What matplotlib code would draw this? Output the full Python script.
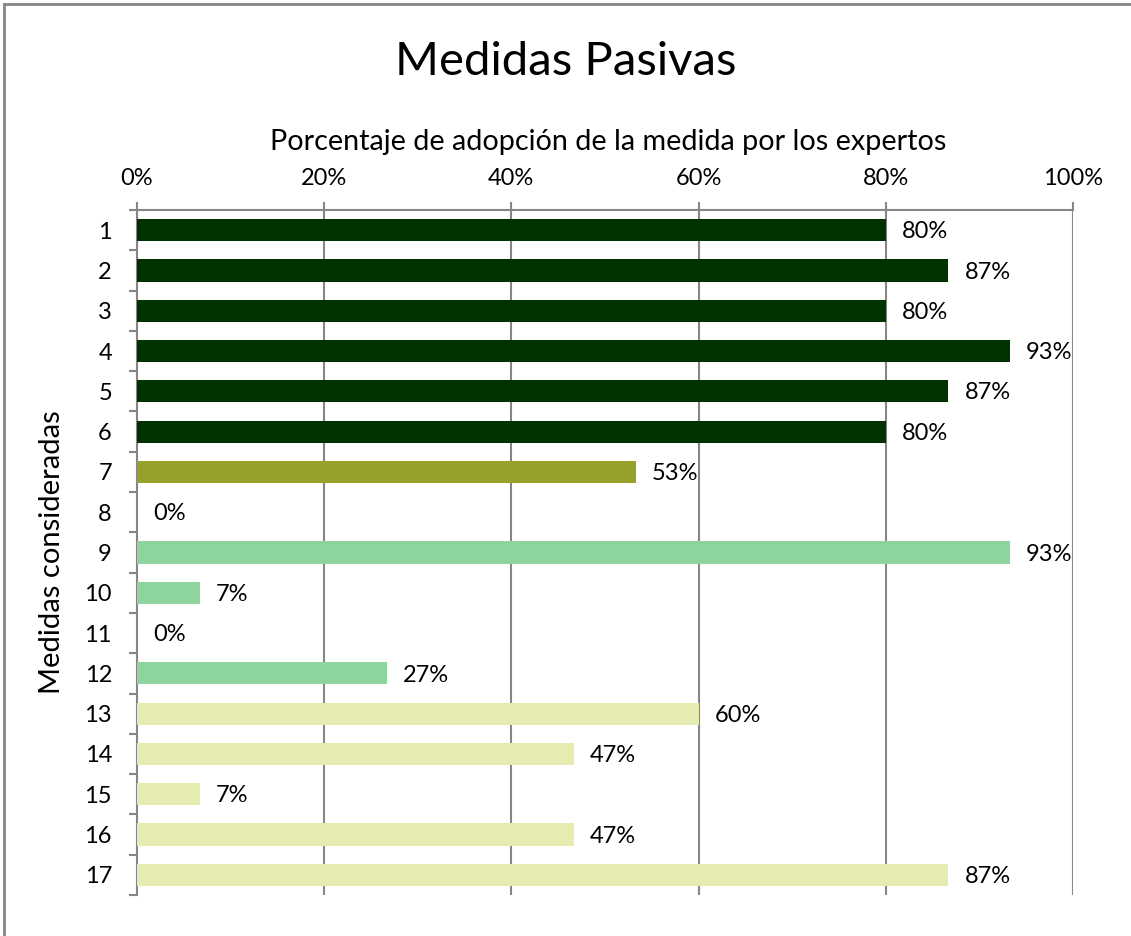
import matplotlib
matplotlib.use("Agg")
import matplotlib.pyplot as plt
from matplotlib.lines import Line2D

plt.rcParams["font.family"] = ["Lato", "DejaVu Sans"]

MEDIDAS = [str(i) for i in range(1, 18)]
ADOPCION = [0.80, 0.867, 0.80, 0.933, 0.867, 0.80, 0.533, 0.0, 0.933,
            0.067, 0.0, 0.267, 0.60, 0.467, 0.067, 0.467, 0.867]
GRUPO = ["a"] * 6 + ["b"] + ["c"] * 5 + ["d"] * 5
COLORS = {"a": "#013300", "b": "#96A12B", "c": "#8ED49E", "d": "#E5EBB1"}
XTICKS = [0, 0.2, 0.4, 0.6, 0.8, 1.0]
GRAY = "#868686"


def main():
    fig = plt.figure(figsize=(11.31, 9.36), dpi=100)
    ax = fig.add_axes([0.1211, 0.0438, 0.8276, 0.7318])

    ypos = list(range(len(MEDIDAS)))
    ax.barh(ypos, ADOPCION, height=0.55,
            color=[COLORS[g] for g in GRUPO], zorder=3)
    for y, v in zip(ypos, ADOPCION):
        ax.text(v + 0.017, y + 0.04, f"{v:.0%}", va="center", ha="left",
                fontsize=17, color="black", zorder=4)

    ax.set_xlim(0, 1)
    ax.set_ylim(len(MEDIDAS) - 0.5, -0.5)

    ax.xaxis.tick_top()
    ax.set_xticks(XTICKS)
    ax.set_xticklabels([f"{t:.0%}" for t in XTICKS], fontsize=17)
    ax.tick_params(axis="x", length=6, width=1.5, color=GRAY, pad=9)
    ax.grid(axis="x", color=GRAY, lw=1.5, zorder=1)

    ax.set_yticks(ypos)
    ax.set_yticklabels(MEDIDAS, fontsize=17)
    ax.set_yticks([y - 0.5 for y in range(len(MEDIDAS) + 1)], minor=True)
    ax.tick_params(axis="y", which="major", length=0, pad=18)
    ax.tick_params(axis="y", which="minor", length=6, width=1.5, color=GRAY)

    for s in ("right", "bottom"):
        ax.spines[s].set_visible(False)
    for s in ("top", "left"):
        ax.spines[s].set_color(GRAY)
        ax.spines[s].set_linewidth(1.5)

    fig.text(0.5375, 1 - 150 / 936, "Porcentaje de adopción de la medida por los expertos",
             ha="center", va="baseline", fontsize=20.7)
    ax.set_ylabel("Medidas consideradas", fontsize=21)
    ax.yaxis.set_label_coords(-0.077, 0.5)
    fig.text(0.5, 0.934, "Medidas Pasivas", ha="center", va="center", fontsize=34)

    # chart frame (only top and left edges fall inside the image)
    fig.add_artist(Line2D([0.0035, 0.0035], [0, 0.9955], color=GRAY, lw=2,
                          transform=fig.transFigure))
    fig.add_artist(Line2D([0.0035, 1.0], [0.9955, 0.9955], color=GRAY, lw=2,
                          transform=fig.transFigure))

    fig.savefig("out.png", dpi=100)


if __name__ == "__main__":
    main()
